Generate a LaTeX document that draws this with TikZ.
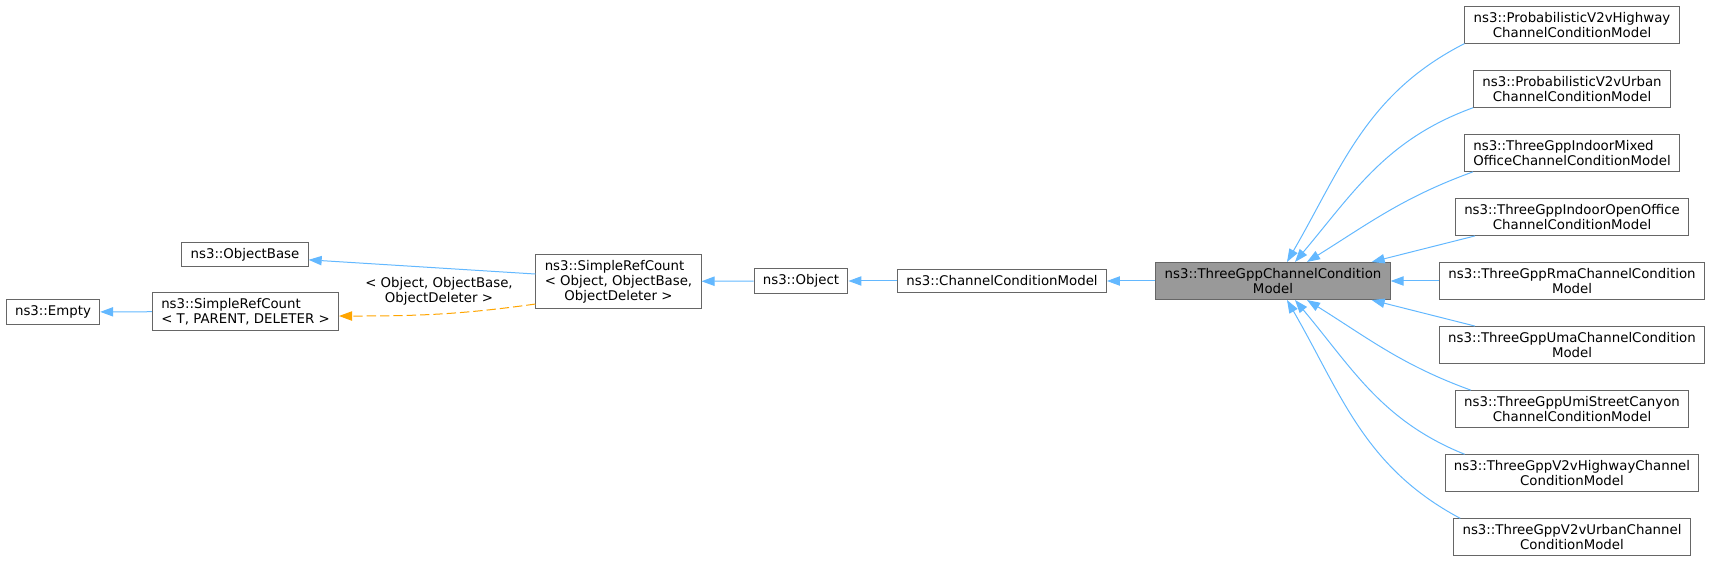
\documentclass[tikz,border=0pt]{standalone}
\usepackage{fontspec}
\setmainfont{DejaVu Sans}
\usepackage{calc}
\usetikzlibrary{arrows.meta}
\definecolor{edgeblue}{HTML}{63B8FF}
\definecolor{tmplorange}{HTML}{FFA500}
\definecolor{boxgray}{HTML}{666666}
\definecolor{curgray}{HTML}{999999}
\begin{document}
\begin{tikzpicture}
			[x=0.75pt,y=0.75pt,
			cls/.style={rectangle,draw=boxgray,fill=white,line width=0.75pt,inner xsep=6.6pt,inner ysep=4.4pt,align=center,font=\fontsize{10}{11.25}\selectfont},
			link/.style={->,draw=edgeblue,line width=0.75pt},
			tmpl/.style={->,draw=tmplorange,line width=0.75pt,dash pattern=on 7pt off 3pt},
			>={Triangle[length=9.75pt,width=7pt]}]
			\useasboundingbox (0,0) rectangle (1709,563);
			\node[cls,name=empty]at(53,251){ns3::Empty};
			\node[cls,name=srct,align=left]at(245.5,251.5){ns3::SimpleRefCount\\< T, PARENT, DELETER >};
			\node[cls,name=obase]at(245,308.5){ns3::ObjectBase};
			\node[cls,name=src,align=left]at(618.5,281.5){ns3::SimpleRefCount\\< Object, ObjectBase,\\\makebox[\widthof{< Object, ObjectBase,}]{ObjectDeleter >}};
			\node[align=center,font=\fontsize{10}{11.25}\selectfont,name=targs]at(439,271.5){< Object, ObjectBase,\\ObjectDeleter >};
			\node[cls,name=obj]at(801,282){ns3::Object};
			\node[cls,name=ccm]at(1002,282){ns3::ChannelConditionModel};
			\node[cls,name=tgc,fill=curgray]at(1273,282){ns3::ThreeGppChannelCondition\\Model};
			\node[cls,name=pvh]at(1572,538.4){ns3::ProbabilisticV2vHighway\\ChannelConditionModel};
			\node[cls,name=pvu]at(1572,474.3){ns3::ProbabilisticV2vUrban\\ChannelConditionModel};
			\node[cls,name=imo,align=left]at(1572,410.2){ns3::ThreeGppIndoorMixed\\OfficeChannelConditionModel};
			\node[cls,name=ioo]at(1572,346.1){ns3::ThreeGppIndoorOpenOffice\\ChannelConditionModel};
			\node[cls,name=rma]at(1572,282){ns3::ThreeGppRmaChannelCondition\\Model};
			\node[cls,name=uma]at(1572,217.9){ns3::ThreeGppUmaChannelCondition\\Model};
			\node[cls,name=umi]at(1572,153.8){ns3::ThreeGppUmiStreetCanyon\\ChannelConditionModel};
			\node[cls,name=v2h]at(1572,89.7){ns3::ThreeGppV2vHighwayChannel\\ConditionModel};
			\node[cls,name=v2u]at(1572,25.6){ns3::ThreeGppV2vUrbanChannel\\ConditionModel};
			\draw[link](srct) --(empty);
			\draw[link]([yshift=5.6pt]src.west) --([yshift=-4pt]obase.east);
			\draw[tmpl]([yshift=-16.9pt]src.west) to[out=188,in=0]([yshift=-3.4pt]srct.east);
			\draw[link](obj) --(src);
			\draw[link](ccm) --(obj);
			\draw[link](tgc) --(ccm);
			\draw[link](pvh.south west) to[out=207,in=60]([xshift=10.5pt]tgc.north);
			\draw[link](pvu.south west) to[out=200,in=50]([xshift=16.5pt]tgc.north);
			\draw[link]([xshift=6.75pt]imo.south west) to[out=200,in=32]([xshift=25.5pt]tgc.north);
			\draw[link]([xshift=15pt]ioo.south west) --([xshift=74pt]tgc.north);
			\draw[link](rma) --(tgc);
			\draw[link]([xshift=27pt]uma.north west) --([xshift=74pt]tgc.south);
			\draw[link]([xshift=12pt]umi.north west) to[out=160,in=-32]([xshift=25.5pt]tgc.south);
			\draw[link]([xshift=15pt]v2h.north west) to[out=158,in=-50]([xshift=16.5pt]tgc.south);
			\draw[link]([xshift=5.25pt]v2u.north west) to[out=152,in=-60]([xshift=10.5pt]tgc.south);
		\end{tikzpicture}
\end{document}
